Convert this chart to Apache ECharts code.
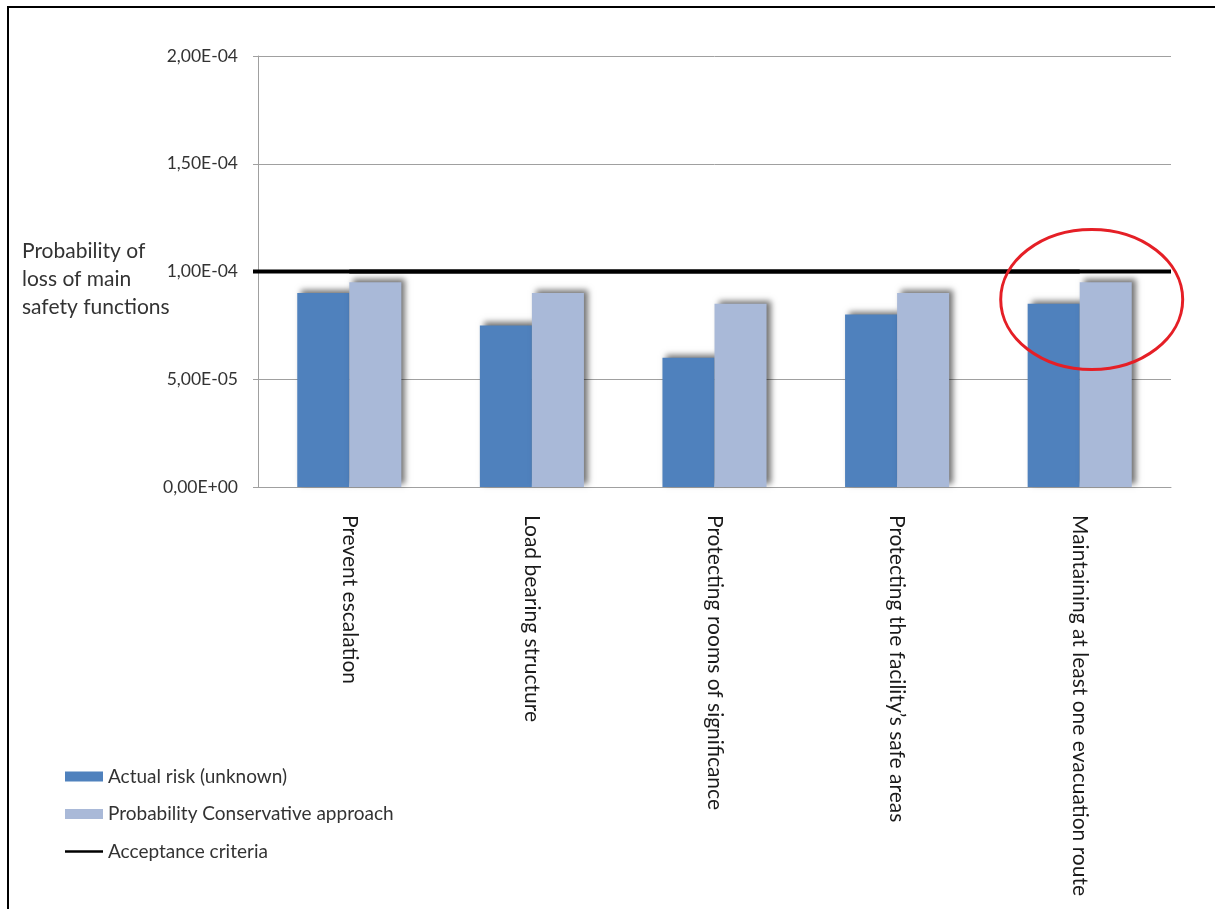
<!DOCTYPE html>
<html>
<head>
<meta charset="utf-8">
<script src="https://cdn.jsdelivr.net/npm/echarts@6/dist/echarts.min.js"></script>
<style>
  html, body { margin: 0; padding: 0; background: #fff; }
  #chart { width: 1215px; height: 909px; }
</style>
</head>
<body>
<div id="chart"></div>
<script>
// Main safety functions and their estimated loss probabilities
const categories = [
  'Prevent escalation',
  'Load bearing structure',
  'Protecting rooms of significance',
  'Protecting the facility\u2019s safe areas',
  'Maintaining at least one evacuation route'
];
const actualRisk = [9.0e-5, 7.5e-5, 6.0e-5, 8.0e-5, 8.5e-5];
const conservativeRisk = [9.5e-5, 9.0e-5, 8.5e-5, 9.0e-5, 9.5e-5];
const acceptanceCriteria = [1e-4, 1e-4, 1e-4, 1e-4, 1e-4];
const yTicks = [0, 5e-5, 1e-4, 1.5e-4, 2e-4];
const seriesNames = ['Actual risk (unknown)', 'Probability Conservative approach', 'Acceptance criteria'];
const highlightIndex = 4;

const FONT = 'Lato, "Open Sans", sans-serif';
const TEXT = '#333';

function fmtSci(v) {
  if (v === 0) return '0,00E+00';
  const exp = Math.floor(Math.log10(v) + 1e-9);
  const mant = v / Math.pow(10, exp);
  const sign = exp < 0 ? '-' : '+';
  const e = String(Math.abs(exp)).padStart(2, '0');
  return mant.toFixed(2).replace('.', ',') + 'E' + sign + e;
}

const barShadow = {
  shadowColor: 'rgba(0,0,0,0.55)',
  shadowBlur: 6,
  shadowOffsetX: 4,
  shadowOffsetY: -3
};

const chart = echarts.init(document.getElementById('chart'), null, { renderer: 'canvas' });

const option = {
  animation: false,
  backgroundColor: '#fff',
  grid: { left: 258, right: 44, top: 56, bottom: 422, containLabel: false },
  legend: {
    orient: 'vertical',
    left: 60,
    top: 762,
    itemGap: 18.5,
    itemWidth: 38,
    itemHeight: 10,
    textStyle: { fontFamily: FONT, fontSize: 19, color: TEXT },
    data: [
      { name: seriesNames[0], icon: 'rect' },
      { name: seriesNames[1], icon: 'rect' },
      { name: seriesNames[2], icon: 'path://M0,0 H38 V2.5 H0 Z' }
    ]
  },
  xAxis: {
    type: 'category',
    data: categories,
    axisLine: { show: true, lineStyle: { color: '#a0a0a0', width: 1 } },
    axisTick: { show: false },
    axisLabel: {
      rotate: -90,
      interval: 0,
      margin: 28,
      fontFamily: FONT,
      fontSize: 21,
      color: '#1a1a1a'
    }
  },
  yAxis: {
    type: 'value',
    min: yTicks[0],
    max: yTicks[yTicks.length - 1],
    interval: yTicks[1] - yTicks[0],
    axisLine: { show: true, lineStyle: { color: '#a0a0a0', width: 1 } },
    axisTick: { show: true, length: 5, lineStyle: { color: '#a0a0a0' } },
    splitLine: { show: true, lineStyle: { color: '#a0a0a0', width: 1 } },
    axisLabel: {
      margin: 20,
      fontFamily: FONT,
      fontSize: 17.5,
      color: TEXT,
      formatter: v => fmtSci(v)
    }
  },
  series: [
    {
      name: seriesNames[0],
      type: 'bar',
      data: actualRisk,
      barGap: '0%',
      barCategoryGap: '43%',
      itemStyle: Object.assign({ color: '#4f81bd' }, barShadow),
      z: 2
    },
    {
      name: seriesNames[1],
      type: 'bar',
      data: conservativeRisk,
      barGap: '0%',
      barCategoryGap: '43%',
      itemStyle: Object.assign({ color: '#a9b9d8' }, barShadow),
      z: 2
    },
    {
      name: seriesNames[2],
      type: 'line',
      data: acceptanceCriteria,
      symbol: 'none',
      lineStyle: { color: '#000', width: 4 },
      itemStyle: { color: '#000' },
      z: 5
    }
  ]
};
chart.setOption(option);

// The acceptance line spans the whole plot width, so stretch it from axis to axis
// and add the annotation ellipse around the highlighted category.
function drawOverlay() {
  const grid = chart.getModel().getComponent('grid').coordinateSystem.getRect();
  const yLine = chart.convertToPixel({ yAxisIndex: 0 }, acceptanceCriteria[0]);
  const cx = chart.convertToPixel({ xAxisIndex: 0 }, categories[highlightIndex]) + 12;
  const cy = chart.convertToPixel({ yAxisIndex: 0 }, conservativeRisk[highlightIndex] - 0.8e-5);
  chart.setOption({
    graphic: [
      {
        type: 'line',
        shape: { x1: grid.x - 5, y1: yLine, x2: grid.x + grid.width, y2: yLine },
        style: { stroke: '#000', lineWidth: 4 },
        z: 10
      },
      {
        type: 'ellipse',
        shape: { cx: cx, cy: cy, rx: 91, ry: 70 },
        style: { fill: null, stroke: '#e51f26', lineWidth: 3 },
        z: 20
      },
      {
        type: 'text',
        left: 22,
        top: 237,
        style: {
          text: 'Probability of\nloss of main\nsafety functions',
          font: '21px ' + FONT,
          fill: TEXT,
          lineHeight: 28
        },
        z: 20
      },
      {
        type: 'rect',
        shape: { x: 8, y: 7, width: 1300, height: 1000 },
        style: { fill: null, stroke: '#000', lineWidth: 2 },
        silent: true,
        z: 30
      }
    ]
  });
}
drawOverlay();
</script>
</body>
</html>
